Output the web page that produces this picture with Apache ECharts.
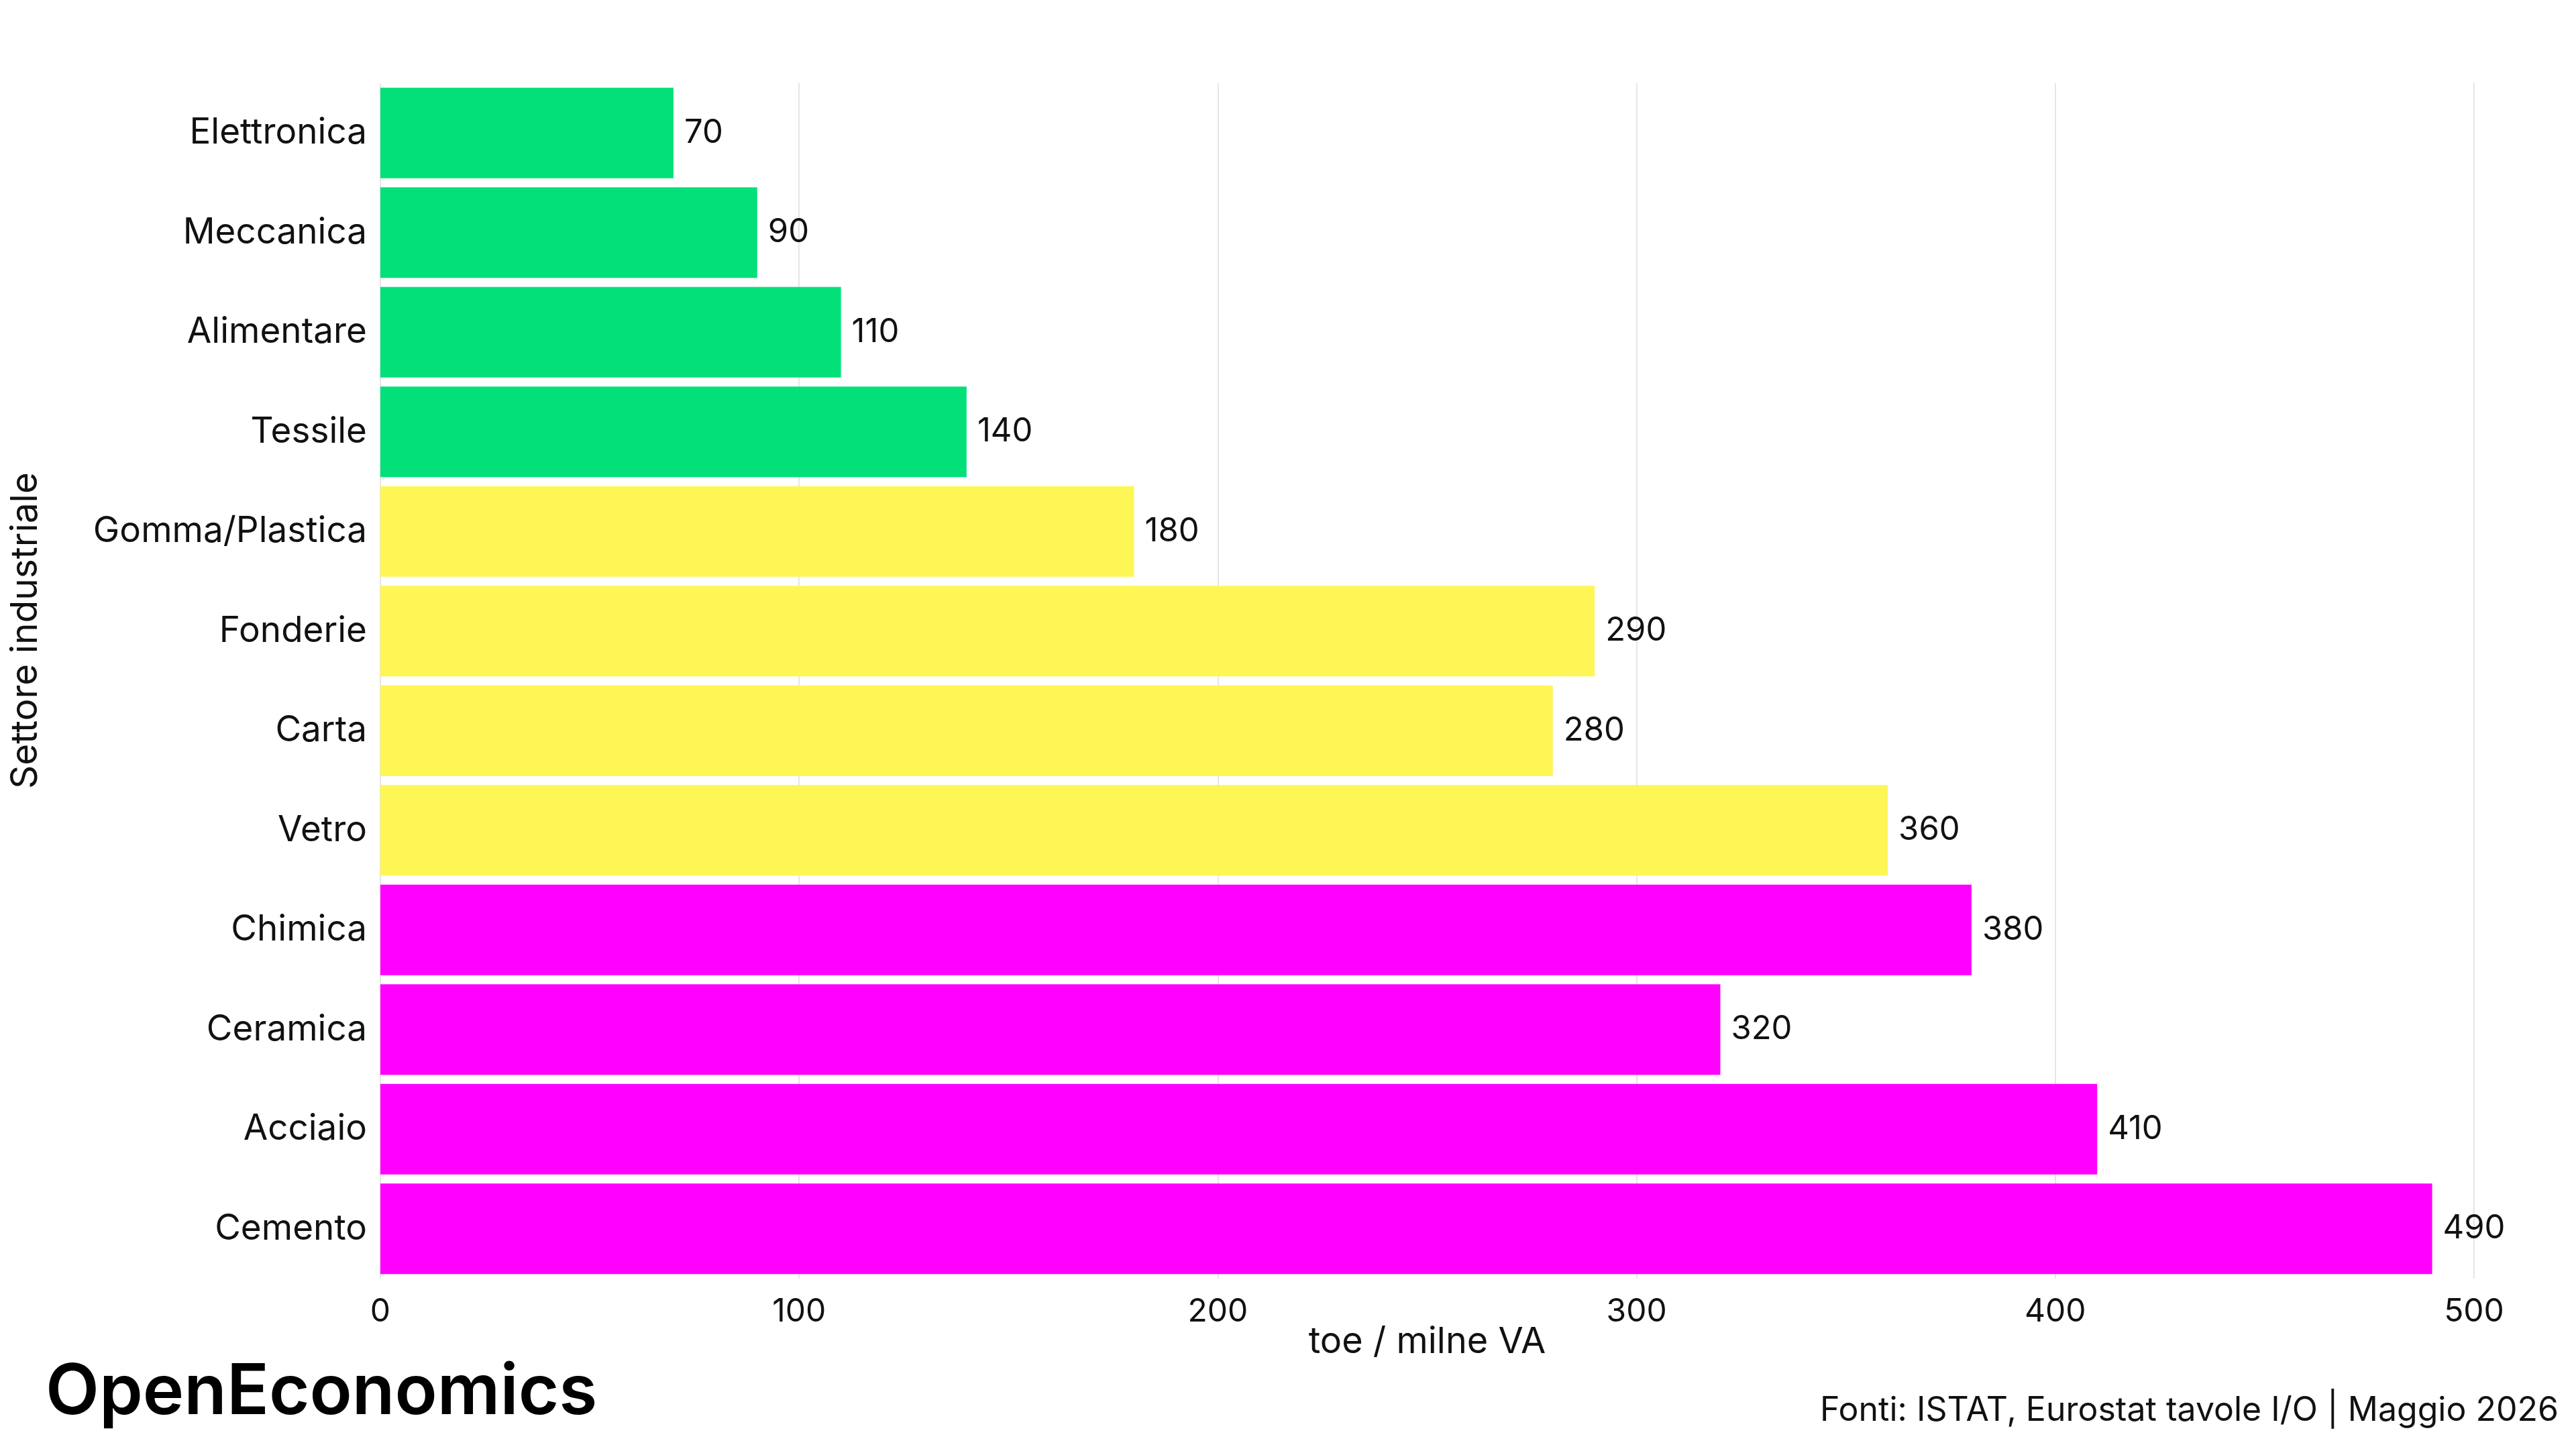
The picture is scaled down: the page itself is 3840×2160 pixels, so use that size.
<!DOCTYPE html>
<html>
<head>
<meta charset="utf-8">
<script src="https://cdn.jsdelivr.net/npm/echarts@6/dist/echarts.min.js"></script>
<style>
  html, body { margin: 0; padding: 0; background: #fff; }
  #chart { width: 3840px; height: 2160px; }
</style>
</head>
<body>
<div id="chart"></div>
<script>
// settori, dall'alto verso il basso
var settori = ['Elettronica', 'Meccanica', 'Alimentare', 'Tessile', 'Gomma/Plastica', 'Fonderie',
  'Carta', 'Vetro', 'Chimica', 'Ceramica', 'Acciaio', 'Cemento'];
// intensità energetica (toe / mln VA)
var valori = [70, 90, 110, 140, 180, 290, 280, 360, 380, 320, 410, 490];
// classe di intensità per settore
var classi = ['bassa', 'bassa', 'bassa', 'bassa', 'media', 'media', 'media', 'media', 'alta', 'alta', 'alta', 'alta'];
var xTicks = [0, 100, 200, 300, 400, 500];

var colori = { bassa: '#03E07A', media: '#FDF655', alta: '#FF00FF' };
var FONT = 'Inter, "Noto Sans", sans-serif';

var chart = echarts.init(document.getElementById('chart'));

chart.setOption({
  backgroundColor: '#ffffff',
  animation: false,
  textStyle: { fontFamily: FONT },
  grid: { left: 567, right: 152, top: 124, bottom: 254, containLabel: false },
  graphic: [{
    type: 'text',
    left: 68,
    top: 2025,
    style: { text: 'OpenEconomics', fontFamily: FONT, fontSize: 104, fontWeight: 600, fill: '#000' }
  }, {
    type: 'text',
    right: 26,
    top: 2078,
    style: { text: 'Fonti: ISTAT, Eurostat tavole I/O | Maggio 2026', fontFamily: FONT, fontSize: 50, fill: '#111' }
  }, {
    // titolo asse y
    type: 'text',
    x: 38,
    y: 940,
    rotation: Math.PI / 2,
    style: {
      text: 'Settore industriale', fontFamily: FONT, fontSize: 55, fill: '#111',
      align: 'center', verticalAlign: 'middle'
    }
  }],
  xAxis: {
    type: 'value',
    min: xTicks[0],
    max: xTicks[xTicks.length - 1],
    interval: 100,
    name: 'toe / milne VA',
    nameLocation: 'middle',
    nameGap: 68,
    nameMoveOverlap: false,
    nameTextStyle: { fontSize: 54, color: '#111', fontFamily: FONT },
    axisLine: { show: false },
    axisTick: { show: false },
    axisLabel: { fontSize: 48, color: '#111', margin: 26, fontFamily: FONT },
    splitLine: { show: true, lineStyle: { color: '#e6e6e6', width: 2 } }
  },
  yAxis: {
    type: 'category',
    data: settori,
    inverse: true,
    axisLine: { show: false },
    axisTick: { show: false },
    axisLabel: { fontSize: 53, color: '#111', margin: 20, fontFamily: FONT }
  },
  series: [{
    type: 'bar',
    barCategoryGap: '9%',
    data: valori.map(function(v, i) {
      return { value: v, itemStyle: { color: colori[classi[i]] } };
    }),
    label: {
      show: true,
      position: 'right',
      distance: 16,
      fontSize: 49,
      color: '#111',
      fontFamily: FONT
    }
  }]
});
</script>
</body>
</html>
